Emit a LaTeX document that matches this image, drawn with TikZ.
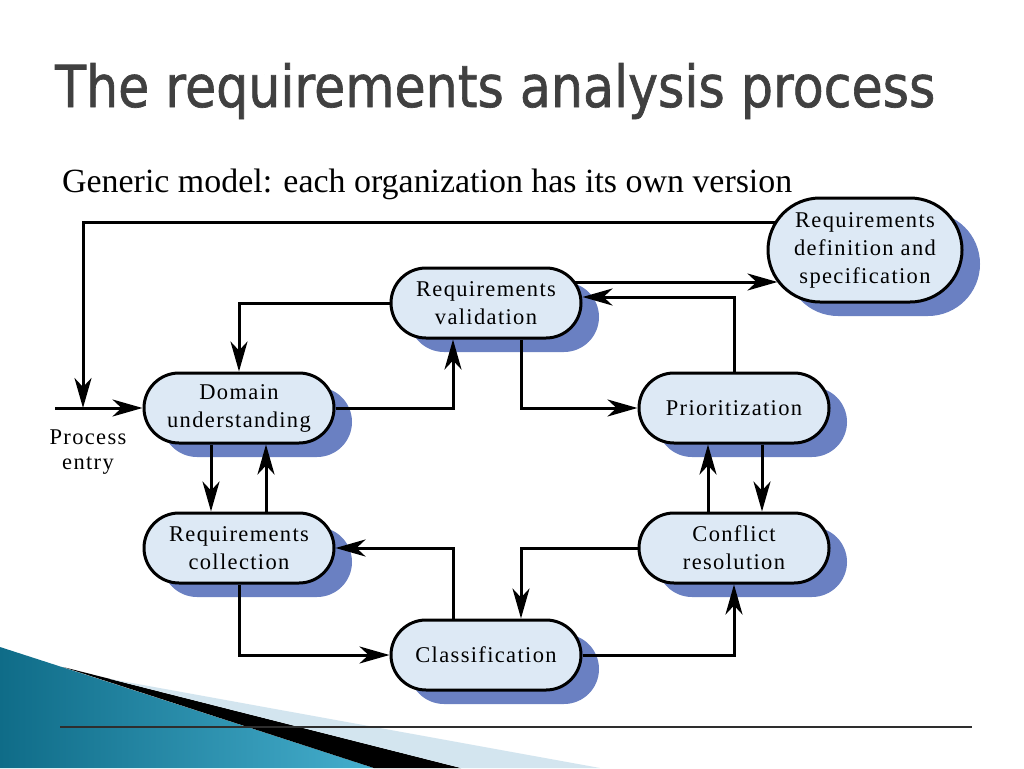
\documentclass[tikz,border=0pt]{standalone}
\usepackage{fontspec}
\setmainfont{Liberation Serif}
\newfontfamily\titlefont[FakeBold=1.2]{DejaVu Sans}
\newfontfamily\nodefont[LetterSpace=6]{Liberation Serif}
\usetikzlibrary{arrows.meta,shadows,calc}
\definecolor{shadowblue}{HTML}{6A80C2}
\definecolor{nodefill}{HTML}{DDE9F5}
\definecolor{titlegray}{HTML}{404040}
\definecolor{tealdark}{HTML}{0F6C88}
\definecolor{teallight}{HTML}{45AECD}
\definecolor{paleblue}{HTML}{D3E5EF}
\definecolor{rulegray}{HTML}{2E2E2E}
\begin{document}
\begin{tikzpicture}[x=1pt,y=-1pt,
  proc/.style={rectangle, rounded corners=35pt, draw=black, line width=3pt,
    fill=nodefill, minimum width=190pt, minimum height=70pt, align=center,
    inner sep=0pt, font=\nodefont\fontsize{22.5}{28}\selectfont,
    drop shadow={shadow xshift=18pt, shadow yshift=-14pt, fill=shadowblue, opacity=1}},
  conn/.style={line width=3pt, draw=black},
  arr/.style={conn, -{Stealth[length=30pt,width=17pt,inset=9pt]}},
]
\useasboundingbox (0,0) rectangle (1024,768);
\fill[white] (0,0) rectangle (1024,768);

% bottom-left decoration
\shade[left color=tealdark, right color=teallight] (0,647) -- (374,768) -- (0,768) -- cycle;
\fill[black] (63,667) -- (461,768) -- (374,768) -- cycle;
\fill[paleblue] (110,679) -- (600,768) -- (461,768) -- cycle;
\draw[rulegray, line width=1.3pt] (60,727) -- (972,727);

% title and subtitle
\node[anchor=base west, inner sep=0pt, text=titlegray] (title) at (55,107)
  {\resizebox{880pt}{44pt}{\titlefont The requirements analysis process}};
\node[anchor=base west, inner sep=0pt] (sub) at (62,192)
  {\resizebox{730pt}{!}{\fontsize{30}{36}\selectfont Generic model: each organization has its own version}};

% nodes
\node[proc] (val) at (486,303) {Requirements\\validation};
\node[proc, minimum width=194pt, minimum height=104pt, rounded corners=52pt] (def) at (865,250)
  {Requirements\\definition and\\specification};
\node[proc] (dom) at (239,408) {Domain\\understanding};
\node[proc] (prio) at (734,408) {Prioritization};
\node[proc] (col) at (239,548) {Requirements\\collection};
\node[proc] (conf) at (734,548) {Conflict\\resolution};
\node[proc] (cls) at (486,655) {Classification};

\node[align=center, inner sep=0pt, font=\nodefont\fontsize{22.5}{25}\selectfont] (pe) at (88,452) {Process\\entry};

\coordinate (entry) at (55,408);
\coordinate (join) at (83,408);

% connectors
\draw[arr] (entry) -- (dom.west);
\draw[arr] ([shift={(9pt,28pt)}]def.west) -| (join);
\draw[arr] (dom.east) -| ([xshift=-33pt]val.south);
\draw[arr] (val.west) -| (dom.north);
\draw[arr] ([shift={(-8pt,21pt)}]val.east) -- ([shift={(11pt,-32pt)}]def.west);
\draw[arr] (prio.north) |- ([yshift=6pt]val.east);
\draw[arr] ([xshift=35pt]val.south) |- (prio.west);
\draw[arr] ([xshift=28pt]prio.south) -- ([xshift=28pt]conf.north);
\draw[arr] ([xshift=-26pt]conf.north) -- ([xshift=-26pt]prio.south);
\draw[arr] (conf.west) -| ([xshift=35pt]cls.north);
\draw[arr] (cls.east) -| (conf.south);
\draw[arr] ([xshift=-33pt]cls.north) |- (col.east);
\draw[arr] (col.south) |- (cls.west);
\draw[arr] ([xshift=-28pt]dom.south) -- ([xshift=-28pt]col.north);
\draw[arr] ([xshift=27pt]col.north) -- ([xshift=27pt]dom.south);
\end{tikzpicture}
\end{document}
